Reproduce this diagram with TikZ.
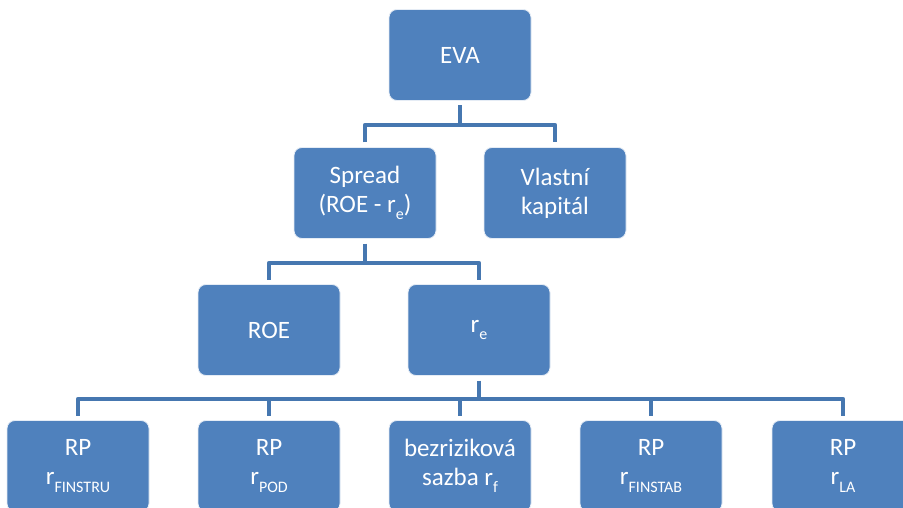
\documentclass[tikz,border=0pt]{standalone}
\usepackage{fontspec}
\setmainfont{Carlito}
\definecolor{boxblue}{HTML}{4F81BD}
\definecolor{linkblue}{HTML}{4677B0}
\newcommand{\sbs}[1]{\raisebox{-0.3em}{\fontsize{16}{16}\selectfont #1}}
\begin{document}
\begin{tikzpicture}[x=1pt,y=-1pt,
  box/.style={rectangle,rounded corners=8pt,fill=boxblue,draw=white!85!boxblue,line width=0.8pt,
    minimum width=142pt,minimum height=91pt,text=white,align=center,outer sep=5pt,
    font=\fontsize{25}{29}\selectfont,inner sep=0pt},
  conn/.style={draw=linkblue,line width=4.5pt,line join=round}]
\useasboundingbox (0,0) rectangle (903,508);
\clip (0,0) rectangle (903,508);
\node[box] (eva) at (460,55) {EVA};
\node[box] (spread) at (365,193) {Spread\\(ROE - r\sbs{e})};
\node[box] (vk) at (555,193) {Vlastní\\kapitál};
\node[box] (roe) at (269,330) {ROE};
\node[box] (re) at (479,330) {r\sbs{e}};
\node[box] (b1) at (78,466) {RP\\r\sbs{FINSTRU}};
\node[box] (b2) at (269,466) {RP\\r\sbs{POD}};
\node[box] (b3) at (460,466) {bezriziková\\sazba r\sbs{f}};
\node[box] (b4) at (651,466) {RP\\r\sbs{FINSTAB}};
\node[box] (b5) at (843,466) {RP\\r\sbs{LA}};
\coordinate (j1) at (460,125);
\coordinate (j2) at (365,263);
\coordinate (j3) at (479,399);
\draw[conn] (eva.south) -- (j1);
\draw[conn] (spread.north) -- (spread.north |- j1) -- (vk.north |- j1) -- (vk.north);
\draw[conn] (spread.south) -- (j2);
\draw[conn] (roe.north) -- (roe.north |- j2) -- (re.north |- j2) -- (re.north);
\draw[conn] (re.south) -- (j3);
\draw[conn] (b1.north) -- (b1.north |- j3) -- (b5.north |- j3) -- (b5.north);
\draw[conn] (b2.north) -- (b2.north |- j3);
\draw[conn] (b3.north) -- (b3.north |- j3);
\draw[conn] (b4.north) -- (b4.north |- j3);
\end{tikzpicture}
\end{document}
